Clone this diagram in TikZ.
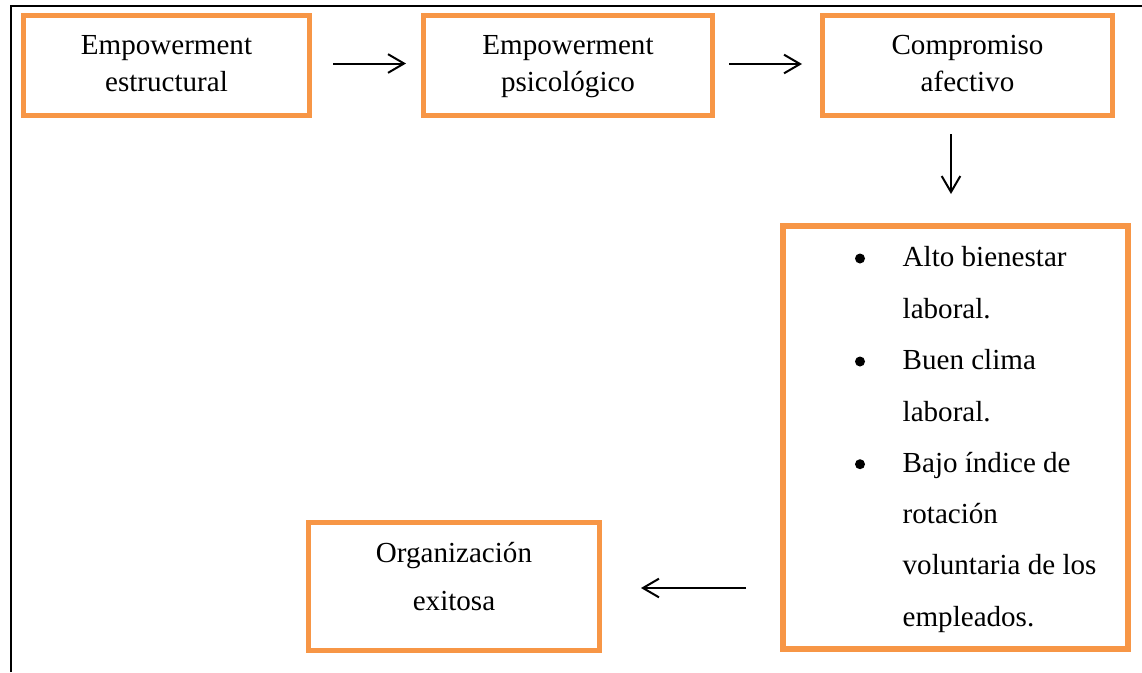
\documentclass[tikz,border=0pt]{standalone}
\usepackage{fontspec}
\setmainfont{Liberation Serif}
\usetikzlibrary{arrows.meta,calc}
\definecolor{boxorange}{HTML}{F79646}

\begin{document}
\begin{tikzpicture}[x=0.75pt,y=-0.75pt,
  flowbox/.style={draw=boxorange,line width=4pt,rectangle,inner sep=0pt,outer sep=0pt},
  txt/.style={inner sep=0pt,outer sep=0pt,anchor=base,font=\fontsize{21.8pt}{26pt}\selectfont},
  itemtxt/.style={txt,anchor=base west},
  bulletdot/.style={fill=black,circle,inner sep=0pt,minimum size=7.5pt},
  arr/.style={line width=1.5pt,-{Straight Barb[length=12pt,width=14pt,line width=1.5pt]}},
  frameline/.style={line width=1.5pt,black}]

\useasboundingbox (0,0) rectangle (1142,672);

% partial outer frame (top and left sides)
\draw[frameline] (11,672) -- (11,6) -- (1142,6);

% boxes
\node[flowbox,minimum width=214.5pt,minimum height=75pt] (b1) at (166.5,65.5) {};
\node[flowbox,minimum width=216.75pt,minimum height=75pt] (b2) at (568,65.5) {};
\node[flowbox,minimum width=217.5pt,minimum height=75pt] (b3) at (967.5,65.5) {};
\node[flowbox,minimum width=258.75pt,minimum height=317.25pt] (b4) at (955.5,437.5) {};
\node[flowbox,minimum width=218.25pt,minimum height=96pt] (b5) at (454,586.5) {};

% box texts
\node[txt] (t1a) at (166.5,54) {Empowerment};
\node[txt] (t1b) at (166.5,91.7) {estructural};
\node[txt] (t2a) at (568,54) {Empowerment};
\node[txt] (t2b) at (568,91.7) {psicológico};
\node[txt] (t3a) at (967.5,54) {Compromiso};
\node[txt] (t3b) at (967.5,91.7) {afectivo};
\node[txt] (t5a) at (454,562) {Organización};
\node[txt] (t5b) at (454,610) {exitosa};

% bullet list
\node[bulletdot] (d1) at (860,258.5) {};
\node[itemtxt] (l1) at (902.7,266.7) {Alto bienestar};
\node[itemtxt] (l2) at (902.7,318) {laboral.};
\node[bulletdot] (d2) at (860,361.5) {};
\node[itemtxt] (l3) at (902.7,369.6) {Buen clima};
\node[itemtxt] (l4) at (902.7,421) {laboral.};
\node[bulletdot] (d3) at (860,464.2) {};
\node[itemtxt] (l5) at (902.7,472.3) {Bajo índice de};
\node[itemtxt] (l6) at (902.7,523.6) {rotación};
\node[itemtxt] (l7) at (902.7,574.9) {voluntaria de los};
\node[itemtxt] (l8) at (902.7,626.2) {empleados.};

% connectors
\draw[arr] ($(b1.east)+(23.5,-2)$) -- ($(b2.west)+(-17.5,-2)$);
\draw[arr] ($(b2.east)+(16.5,-1.5)$) -- ($(b3.west)+(-20.5,-1.5)$);
\draw[arr] ($(b3.south)+(-16.5,18.5)$) -- ($(b4.north)+(-4.5,-32)$);
\draw[arr] ($(b4.west |- b5.east)+(-37,1.5)$) -- ($(b5.east)+(41.5,1.5)$);
\end{tikzpicture}
\end{document}
